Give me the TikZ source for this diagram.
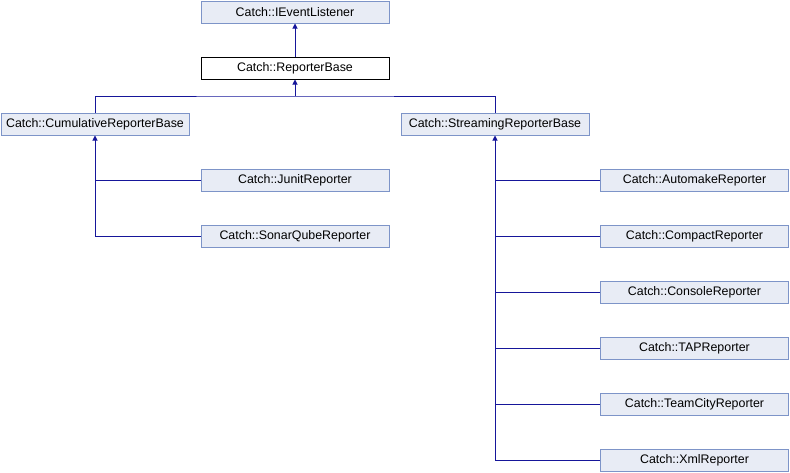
\documentclass[tikz,border=0pt]{standalone}
\usepackage{fontspec}
\setmainfont{Liberation Sans}
\usetikzlibrary{arrows.meta}
\definecolor{boxfill}{HTML}{E8ECF5}
\definecolor{boxdraw}{HTML}{7D94C8}
\definecolor{edgecol}{HTML}{16169A}
\tikzset{
  cls/.style={draw=boxdraw, fill=boxfill, line width=1pt, minimum width=188pt, minimum height=22pt,
    inner sep=0pt, font=\fontsize{12.4}{14}\selectfont},
  curcls/.style={cls, draw=black, fill=white},
  edgeline/.style={draw=edgecol, line width=1pt},
  inh/.style={edgeline, -{Triangle[length=5pt,width=5pt]}}
}
\begin{document}
\begin{tikzpicture}[x=1pt,y=-1pt]
\useasboundingbox (0,0) rectangle (790,472);
\node[cls] (iel) at (295,12) {Catch::IEventListener};
\node[curcls] (rb) at (295,68) {Catch::ReporterBase};
\node[cls] (cum) at (95,124) {Catch::CumulativeReporterBase};
\node[cls] (str) at (495,124) {Catch::StreamingReporterBase};
\node[cls] (junit) at (295,180) {Catch::JunitReporter};
\node[cls] (sonar) at (295,236) {Catch::SonarQubeReporter};
\node[cls] (auto) at (694.5,180) {Catch::AutomakeReporter};
\node[cls] (comp) at (694.5,236) {Catch::CompactReporter};
\node[cls] (cons) at (694.5,292) {Catch::ConsoleReporter};
\node[cls] (tap) at (694.5,348) {Catch::TAPReporter};
\node[cls] (team) at (694.5,404) {Catch::TeamCityReporter};
\node[cls] (xml) at (694.5,460) {Catch::XmlReporter};
\coordinate (bus) at (295,96);
% ReporterBase -> IEventListener
\draw[inh] (rb) -- (iel);
% bases -> ReporterBase
\draw[edgeline] (cum.north) |- (bus) -| (str.north);
\draw[inh] (bus) -- (rb.south);
% cumulative children
\draw[inh] (sonar.west) -| (cum.south);
\draw[edgeline] (junit.west) -- (junit.west -| cum.south);
% streaming children
\draw[inh] (xml.west) -| (str.south);
\foreach \n in {auto,comp,cons,tap,team}
  \draw[edgeline] (\n.west) -- (\n.west -| str.south);
\end{tikzpicture}
\end{document}
